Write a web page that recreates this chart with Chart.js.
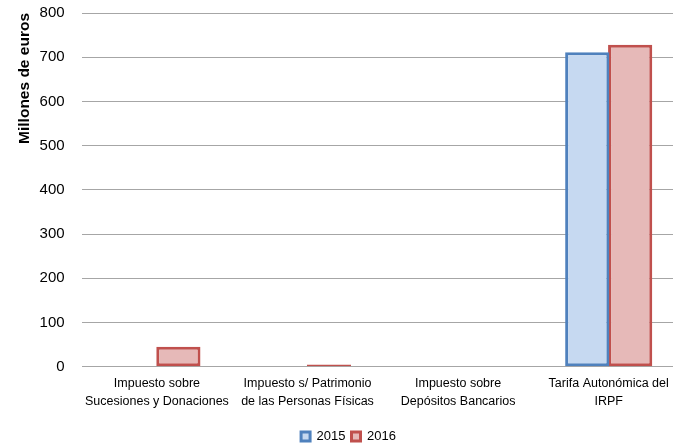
<!DOCTYPE html>
<html>
<head>
<meta charset="utf-8">
<script src="https://cdn.jsdelivr.net/npm/chart.js@4"></script>
<style>
    body { margin: 0; background: #fff; overflow: hidden; }
    #wrap { width: 684px; height: 448px; position: relative; }
</style>
</head>
<body>
<div id="wrap"><canvas id="impuestosBar"></canvas></div>
<script>
const categories = [
    ["Impuesto sobre", "Sucesiones y Donaciones"],
    ["Impuesto s/ Patrimonio", "de las Personas Físicas"],
    ["Impuesto sobre", "Depósitos Bancarios"],
    ["Tarifa Autonómica del", "IRPF"]
];
const values2015 = [0, 0, 0, 711];
const values2016 = [45, 5, 0, 728];
const yTicks = [0, 100, 200, 300, 400, 500, 600, 700, 800];

const fontFamily = "'Liberation Sans', Arial, sans-serif";

function renderBar() {
    new Chart(document.getElementById("impuestosBar"), {
        type: "bar",
        data: {
            labels: categories,
            datasets: [{
                label: "2015",
                data: values2015,
                backgroundColor: "#c6d9f1",
                borderColor: "#4f81bd",
                borderWidth: 3,
                borderSkipped: false
            }, {
                label: "2016",
                data: values2016,
                backgroundColor: "#e6b9b8",
                borderColor: "#c0504d",
                borderWidth: 3,
                borderSkipped: false
            }]
        },
        options: {
            responsive: true,
            maintainAspectRatio: false,
            animation: false,
            layout: { padding: { top: 0, left: 13, right: 0, bottom: -5 } },
            datasets: {
                bar: { categoryPercentage: 0.57, barPercentage: 1.03 }
            },
            plugins: {
                tooltip: { enabled: false },
                legend: {
                    position: "bottom",
                    labels: {
                        boxWidth: 9,
                        boxHeight: 9,
                        padding: 6,
                        color: "#000",
                        font: { family: fontFamily, size: 13 }
                    }
                }
            },
            scales: {
                x: {
                    grid: { display: false },
                    border: { display: false },
                    afterFit: axis => { axis.height += 13; },
                    ticks: {
                        color: "#000",
                        maxRotation: 0,
                        autoSkip: false,
                        padding: 0,
                        font: { family: fontFamily, size: 12.5, lineHeight: 1.45 }
                    }
                },
                y: {
                    min: 0,
                    max: 800,
                    afterBuildTicks: axis => { axis.ticks = yTicks.map(v => ({ value: v })); },
                    grid: { color: "#a6a6a6", lineWidth: 1, drawTicks: true, tickLength: 13, tickColor: "transparent" },
                    border: { display: false },
                    ticks: {
                        color: "#000",
                        padding: 4,
                        font: { family: fontFamily, size: 15 }
                    },
                    title: {
                        display: true,
                        text: "Millones de euros",
                        align: "end",
                        color: "#000",
                        padding: 2,
                        font: { family: fontFamily, size: 15.5, weight: "bold" }
                    }
                }
            }
        }
    });
}

renderBar();
</script>
</body>
</html>
